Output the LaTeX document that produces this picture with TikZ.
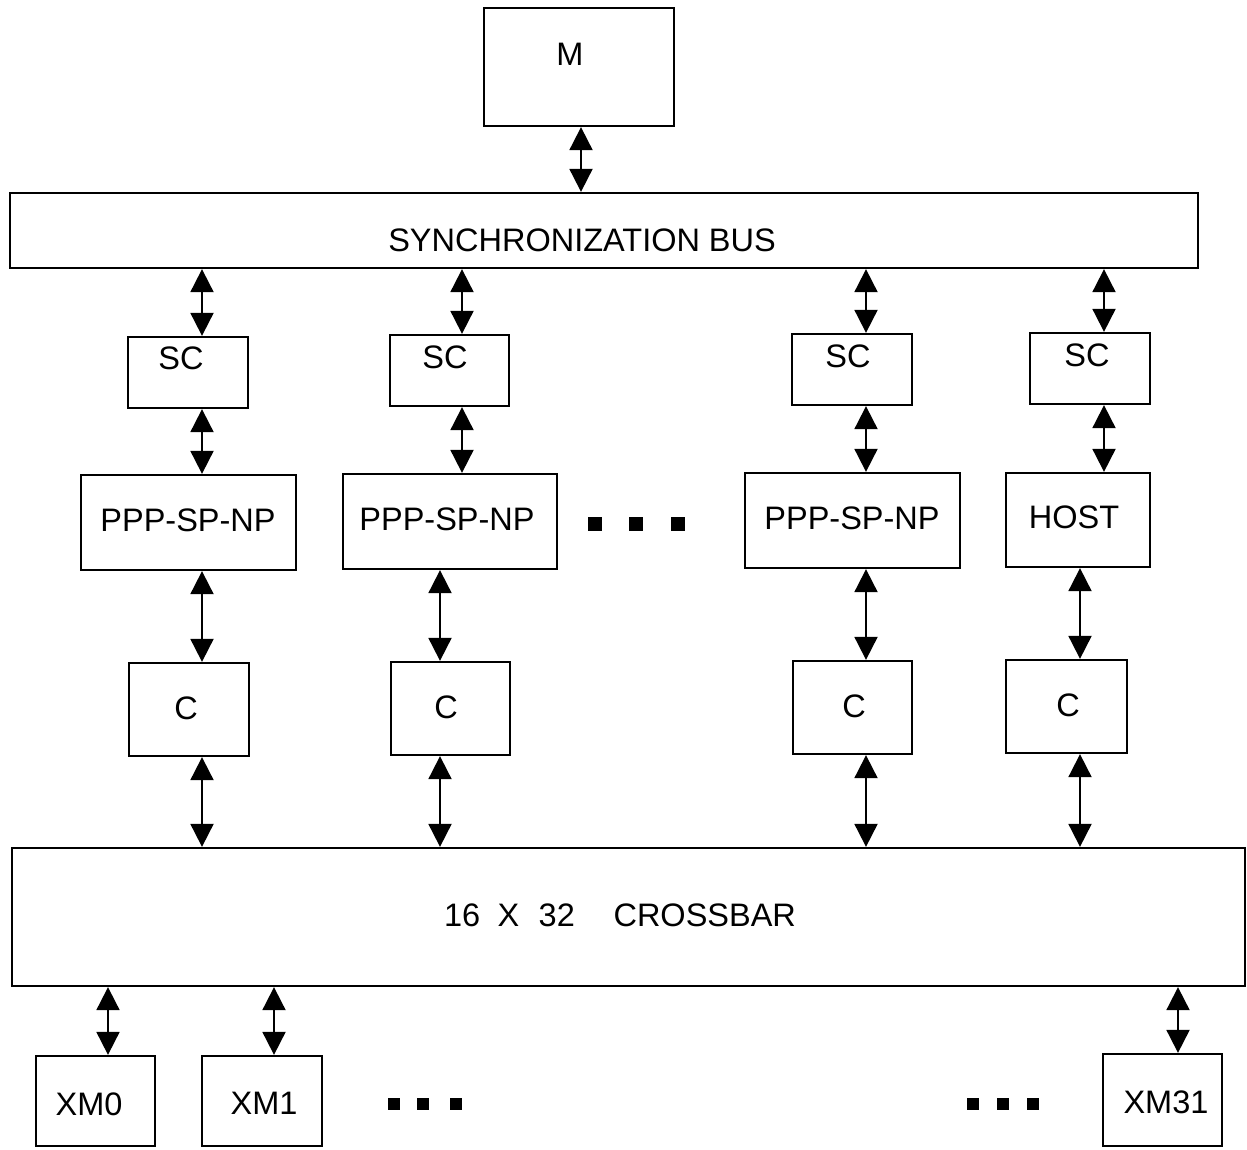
\documentclass[tikz,border=0pt]{standalone}
\usepackage{fontspec}
\setmainfont{Liberation Sans}
\usetikzlibrary{arrows.meta,fit}

\begin{document}
\begin{tikzpicture}[x=0.02cm,y=-0.02cm,
  blk/.style={draw,line width=1.3pt,inner sep=0pt},
  lbl/.style={font=\fontsize{18.5}{21}\selectfont,inner sep=0pt},
  dbl/.style={line width=1.1pt,{Triangle[width=0.46cm,length=0.46cm]}-{Triangle[width=0.46cm,length=0.46cm]}}]
  \useasboundingbox (0,0) rectangle (1247,1149);
  % columns of the connectors
  \coordinate (km) at (581,0);
  \coordinate (k1) at (202,0);
  \coordinate (k2) at (462,0);
  \coordinate (j2) at (440,0);
  \coordinate (k3) at (866,0);
  \coordinate (k4) at (1104,0);
  \coordinate (j4) at (1080,0);
  \coordinate (x0) at (108,0);
  \coordinate (x1) at (274,0);
  \coordinate (x31) at (1178,0);
  % master and bus
  \node[blk,fit={(484,8)(674,126)}] (m) {};
  \node[lbl] (mt) at (570,54) {M};
  \node[blk,fit={(10,193)(1198,268)}] (bus) {};
  \node[lbl] (bust) at (582,240) {SYNCHRONIZATION\hspace{5pt}BUS};
  % sync controllers
  \node[blk,fit={(128,337)(248,408)}] (sc1) {};
  \node[blk,fit={(390,335)(509,406)}] (sc2) {};
  \node[blk,fit={(792,334)(912,405)}] (sc3) {};
  \node[blk,fit={(1030,333)(1150,404)}] (sc4) {};
  \node[lbl] (sc1t) at (181,358) {SC};
  \node[lbl] (sc2t) at (445,357) {SC};
  \node[lbl] (sc3t) at (848,356) {SC};
  \node[lbl] (sc4t) at (1087,355) {SC};
  % processors
  \node[blk,fit={(81,475)(296,570)}] (p1) {};
  \node[blk,fit={(343,474)(557,569)}] (p2) {};
  \node[blk,fit={(745,473)(960,568)}] (p3) {};
  \node[blk,fit={(1006,473)(1150,567)}] (host) {};
  \node[lbl] (p1t) at (188,520) {PPP-SP-NP};
  \node[lbl] (p2t) at (447,519) {PPP-SP-NP};
  \node[lbl] (p3t) at (852,518) {PPP-SP-NP};
  \node[lbl] (hostt) at (1074,517) {HOST};
  % caches
  \node[blk,fit={(129,663)(249,756)}] (c1) {};
  \node[blk,fit={(391,662)(510,755)}] (c2) {};
  \node[blk,fit={(793,661)(912,754)}] (c3) {};
  \node[blk,fit={(1006,660)(1127,753)}] (c4) {};
  \node[lbl] (c1t) at (186,708) {C};
  \node[lbl] (c2t) at (446,707) {C};
  \node[lbl] (c3t) at (854,706) {C};
  \node[lbl] (c4t) at (1068,705) {C};
  % crossbar and memories
  \node[blk,fit={(12,848)(1245,986)}] (xbar) {};
  \node[lbl] (xbart) at (620,915) {16\hspace{10pt}X\hspace{11pt}32\hspace{22pt}CROSSBAR};
  \node[blk,fit={(36,1056)(155,1146)}] (xm0) {};
  \node[blk,fit={(202,1056)(322,1146)}] (xm1) {};
  \node[blk,fit={(1103,1054)(1222,1146)}] (xm31) {};
  \node[lbl] (xm0t) at (89,1104) {XM0};
  \node[lbl] (xm1t) at (264,1103) {XM1};
  \node[lbl] (xm31t) at (1166,1102) {XM31};
  % connectors
  \draw[dbl] (m.south -| km) -- (bus.north -| km);
  \draw[dbl] (bus.south -| k1) -- (sc1.north -| k1);
  \draw[dbl] (bus.south -| k2) -- (sc2.north -| k2);
  \draw[dbl] (bus.south -| k3) -- (sc3.north -| k3);
  \draw[dbl] (bus.south -| k4) -- (sc4.north -| k4);
  \draw[dbl] (sc1.south -| k1) -- (p1.north -| k1);
  \draw[dbl] (sc2.south -| k2) -- (p2.north -| k2);
  \draw[dbl] (sc3.south -| k3) -- (p3.north -| k3);
  \draw[dbl] (sc4.south -| k4) -- (host.north -| k4);
  \draw[dbl] (p1.south -| k1) -- (c1.north -| k1);
  \draw[dbl] (p2.south -| j2) -- (c2.north -| j2);
  \draw[dbl] (p3.south -| k3) -- (c3.north -| k3);
  \draw[dbl] (host.south -| j4) -- (c4.north -| j4);
  \draw[dbl] (c1.south -| k1) -- (xbar.north -| k1);
  \draw[dbl] (c2.south -| j2) -- (xbar.north -| j2);
  \draw[dbl] (c3.south -| k3) -- (xbar.north -| k3);
  \draw[dbl] (c4.south -| j4) -- (xbar.north -| j4);
  \draw[dbl] (xbar.south -| x0) -- (xm0.north -| x0);
  \draw[dbl] (xbar.south -| x1) -- (xm1.north -| x1);
  \draw[dbl] (xbar.south -| x31) -- (xm31.north -| x31);
  % ellipsis squares
  \foreach \x in {595,636,678}
    \fill (\x-7,517) rectangle (\x+7,531);
  \foreach \x in {394,423,456,973,1003,1033}
    \fill (\x-6,1098) rectangle (\x+6,1110);
\end{tikzpicture}
\end{document}
